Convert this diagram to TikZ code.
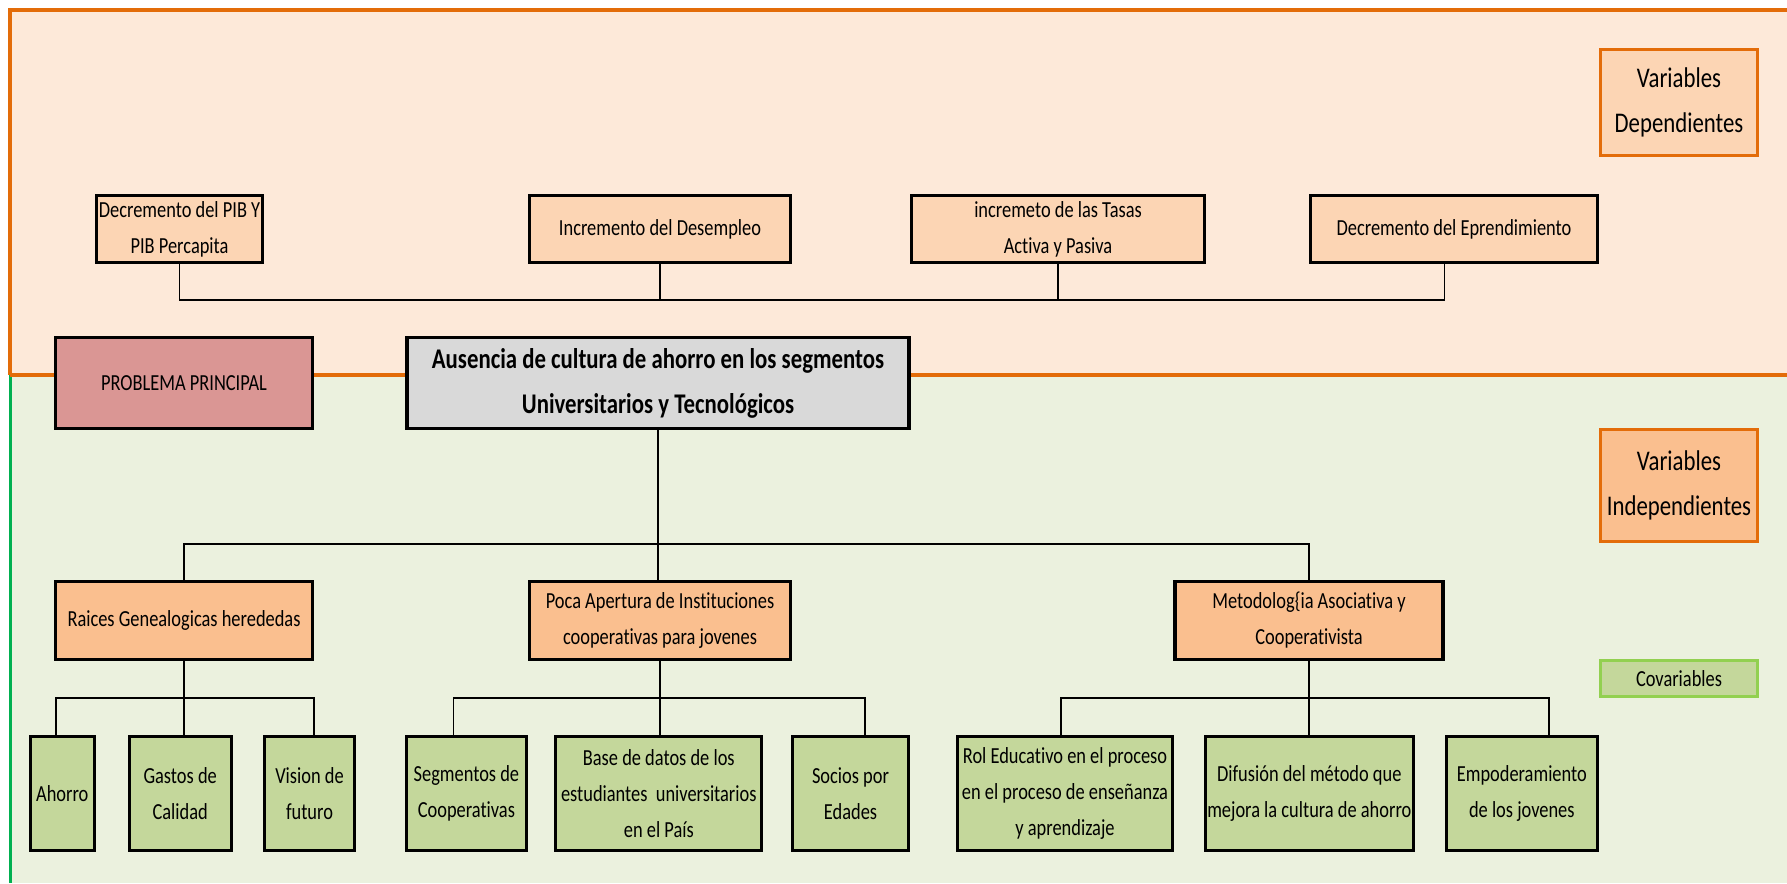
\documentclass[tikz,border=0pt]{standalone}
\usepackage{fontspec}
\setmainfont{Carlito}[FakeStretch=0.8, Ligatures=NoCommon]
\usepackage{tikz}
\definecolor{frameorange}{HTML}{E36C09}
\definecolor{framegreen}{HTML}{00B050}
\definecolor{covgreen}{HTML}{92D050}
\definecolor{topfill}{HTML}{FDE9D9}
\definecolor{botfill}{HTML}{EBF1DE}
\definecolor{depfill}{HTML}{FCD5B4}
\definecolor{causefill}{HTML}{FABF8F}
\definecolor{probfill}{HTML}{DA9694}
\definecolor{mainfill}{HTML}{D9D9D9}
\definecolor{leaffill}{HTML}{C4D79B}

\begin{document}
\begin{tikzpicture}[x=1pt, y=-1pt,
    box/.style={draw, line width=3.3pt, align=center, inner sep=2pt, font=\fontsize{23}{36}\selectfont},
    depbox/.style={box, fill=depfill, minimum height=67pt},
    causebox/.style={box, fill=causefill, minimum height=78pt},
    leafbox/.style={box, fill=leaffill, minimum height=114pt},
    legendbox/.style={box, draw=frameorange, minimum width=157pt, font=\fontsize{28.5}{45}\selectfont},
    link/.style={line width=1.8pt}]
    \fill [white] (0,0) rectangle (1787,883);
    \useasboundingbox (0,0) rectangle (1787,883);
    \fill [topfill] (10,10) rectangle (1787,375);
    \fill [botfill] (10,375) rectangle (1787,883);
    \draw [frameorange, line width=3.5pt] (1787,10) -- (10,10) -- (10,375);
    \draw [framegreen, line width=3pt] (10,375) -- (10,883);
    \draw [frameorange, line width=3.5pt] (10,375) -- (1787,375);

    \node [depbox, minimum width=166pt] (d1) at (179.5,229) {Decremento del PIB Y\\PIB Percapita};
    \node [depbox, minimum width=261pt] (d2) at (660,229) {Incremento del Desempleo};
    \node [depbox, minimum width=293pt] (d3) at (1058,229) {incremeto de las Tasas\\Activa y Pasiva};
    \node [depbox, minimum width=287pt] (d4) at (1454,229) {Decremento del Eprendimiento};
    \node [legendbox, fill=depfill, minimum height=106pt] (vd) at (1679,102.5) {Variables\\Dependientes};

    \node [box, fill=probfill, minimum width=257pt, minimum height=91pt] (pp) at (184,383) {PROBLEMA PRINCIPAL};
    \node [box, fill=mainfill, minimum width=502pt, minimum height=91pt, font=\fontsize{28.5}{45}\selectfont\bfseries] (m) at (658,383) {Ausencia de cultura de ahorro en los segmentos\\Universitarios y Tecnológicos};
    \node [legendbox, fill=causefill, minimum height=112pt] (vi) at (1679,485.5) {Variables\\Independientes};

    \node [causebox, minimum width=257pt] (c1) at (184,620.5) {Raices Genealogicas herededas};
    \node [causebox, minimum width=261pt] (c2) at (660,620.5) {Poca Apertura de Instituciones\\cooperativas para jovenes};
    \node [causebox, minimum width=268pt] (c3) at (1309,620.5) {Metodolog\{ia Asociativa y\\Cooperativista};
    \node [box, draw=covgreen, fill=leaffill, minimum width=157pt, minimum height=36pt] (cv) at (1679,678.5) {Covariables};

    \node [leafbox, minimum width=64pt] (s11) at (62.3,793.5) {Ahorro};
    \node [leafbox, minimum width=102pt] (s12) at (180.2,793.5) {Gastos de\\Calidad};
    \node [leafbox, minimum width=90pt] (s13) at (309.5,793.5) {Vision de\\futuro};
    \node [leafbox, minimum width=120pt] (s21) at (466.4,793.5) {Segmentos de\\Cooperativas};
    \node [leafbox, minimum width=206pt] (s22) at (658.8,793.5) {Base de datos de los\\estudiantes\ \ universitarios\\en el País};
    \node [leafbox, minimum width=116pt] (s23) at (850.5,793.5) {Socios por\\Edades};
    \node [leafbox, minimum width=215pt] (s31) at (1065,793.5) {Rol Educativo en el proceso\\en el proceso de enseñanza\\y aprendizaje};
    \node [leafbox, minimum width=204pt] (s32) at (1309.3,793.5) {Difusión del método que\\mejora la cultura de ahorro};
    \node [leafbox, minimum width=151pt] (s33) at (1521.8,793.5) {Empoderamiento\\de los jovenes};

    \coordinate (topbus) at (0,300);
    \coordinate (midbus) at (0,544);
    \coordinate (lowbus) at (0,698);
    \draw [link] (d1.south) |- ([xshift=-9.5pt]d4.south |- topbus) -- ([xshift=-9.5pt]d4.south);
    \draw [link] (d2.south) -- (d2.south |- topbus);
    \draw [link] (d3.south) -- (d3.south |- topbus);
    \draw [link] (m.south) -- (m.south |- c2.north);
    \draw [link] (c1.north) |- (c3.north |- midbus) -- (c3.north);
    \draw [link] (c1.south) -- (c1.south |- s12.north);
    \draw [link] (c2.south) -- (c2.south |- s22.north);
    \draw [link] (c3.south) -- (c3.south |- s32.north);
    \draw [link] ([xshift=-6.6pt]s11.north) |- ([xshift=4.5pt]s13.north |- lowbus) -- ([xshift=4.5pt]s13.north);
    \draw [link] ([xshift=-13pt]s21.north) |- ([xshift=14.5pt]s23.north |- lowbus) -- ([xshift=14.5pt]s23.north);
    \draw [link] ([xshift=-4pt]s31.north) |- ([xshift=27pt]s33.north |- lowbus) -- ([xshift=27pt]s33.north);
\end{tikzpicture}
\end{document}
